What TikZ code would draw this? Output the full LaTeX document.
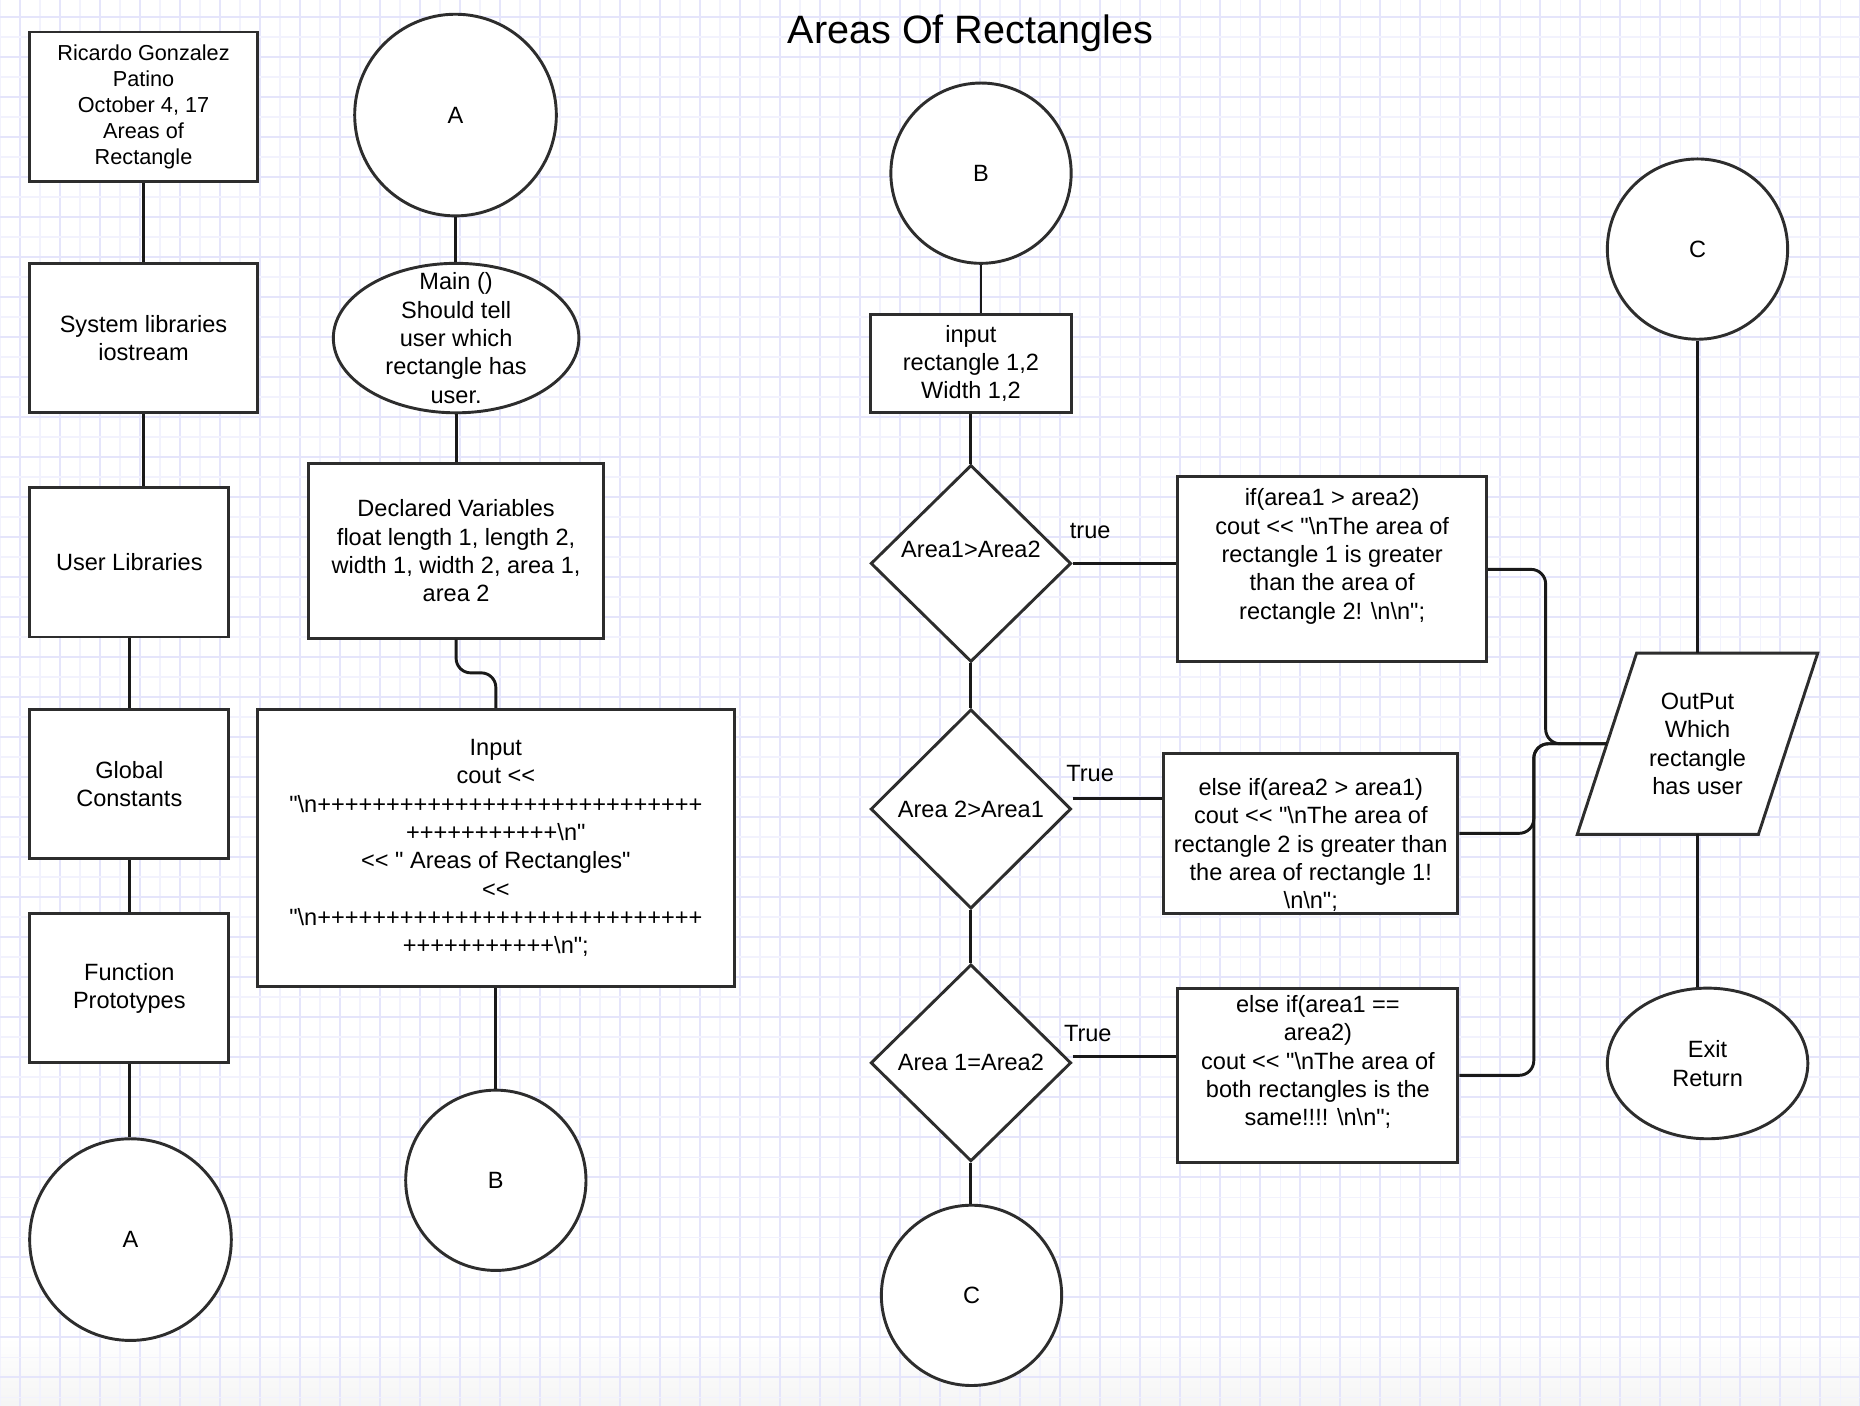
\documentclass[tikz,border=0pt]{standalone}
\usepackage{fontspec}
\setmainfont{Liberation Sans}[Ligatures=TeXOff] % straight quotes and << stay as typed
\usepackage{tikz}
\usetikzlibrary{
  shapes.geometric, % diamond and ellipse nodes
  calc              % coordinate helpers
}
\definecolor{gridbold}{RGB}{229,229,251}
\definecolor{gridfine}{RGB}{242,242,253}
\definecolor{edgecol}{RGB}{45,45,45}
\newcommand{\bsl}{\textbackslash}
\newcommand{\bodyfont}{\fontsize{11.3}{13.6}\selectfont}
\newcommand{\smallbody}{\fontsize{10.4}{12.5}\selectfont}
\tikzset{
  boxdim/.style 2 args={minimum width=#1*0.02cm, minimum height=#2*0.02cm},
  stepbox/.style={
    rectangle,
    draw=edgecol,
    line width=1.4pt,
    fill=white,
    inner sep=0pt,
    align=center,
    font=\bodyfont
  },
  decision/.style={
    diamond,
    draw=edgecol,
    line width=1.4pt,
    fill=white,
    inner sep=0pt,
    align=center,
    font=\bodyfont
  },
  terminal/.style={
    ellipse,
    draw=edgecol,
    line width=1.4pt,
    fill=white,
    inner sep=0pt,
    align=center,
    font=\bodyfont
  },
  pagelink/.style={
    circle,
    draw=edgecol,
    line width=1.4pt,
    fill=white,
    inner sep=0pt,
    font=\bodyfont
  },
  txt/.style={
    align=center,
    inner sep=0pt,
    font=\bodyfont
  },
  link/.style={
    draw=black!90,
    line width=1.4pt,
    rounded corners=7pt
  },
  gridline bold/.style={draw=gridbold, line width=0.9pt},
  gridline fine/.style={draw=gridfine, line width=0.7pt}
}

\begin{document}
\begin{tikzpicture}[x=0.02cm, y=-0.02cm] % units are pixels of the sheet, y runs downwards

  % sheet and grid paper
  \fill[white] (0,0) rectangle (1568,1185); % white sheet
  \useasboundingbox (0,0) rectangle (1568,1185); % fixes the page size
  \begin{scope}
    \clip (0,0) rectangle (1568,1185);
    \shade[top color=white, bottom color=black!4] (0,1127) rectangle (1568,1185); % faint fade at the bottom
    \foreach \k in {0,...,47} {
      \draw[gridline fine] ({33.727*\k},0) -- ({33.727*\k},1185); % fine vertical lines
      \draw[gridline bold] ({16.863+33.727*\k},0) -- ({16.863+33.727*\k},1185); % bold vertical lines
    }
    \foreach \k in {0,...,35} {
      \draw[gridline fine] (0,{31.2+33.727*\k}) -- (1568,{31.2+33.727*\k}); % fine horizontal lines
      \draw[gridline bold] (0,{14.33+33.727*\k}) -- (1568,{14.33+33.727*\k}); % bold horizontal lines
    }
  \end{scope}

  % title
  \node[font=\fontsize{19}{23}\selectfont] (title) at (818,28) {Areas Of Rectangles};

  % first column: header and program parts
  \node[stepbox, boxdim={192}{126}, font=\smallbody] (hdr) at (121,90) {Ricardo Gonzalez\\Patino\\October 4, 17\\Areas of\\Rectangle};
  \node[stepbox, boxdim={192}{126}] (sys) at (121,285) {System libraries\\iostream};
  \node[stepbox, boxdim={168}{126}] (user) at (109,474) {User Libraries};
  \node[stepbox, boxdim={168}{126}] (glob) at (109,661) {Global\\Constants};
  \node[stepbox, boxdim={168}{126}] (func) at (109,833) {Function\\Prototypes};
  \node[pagelink, minimum size=170*0.02cm] (cA1) at (110,1045) {A};

  % second column: main, variables and banner
  \node[pagelink, minimum size=170*0.02cm] (cA2) at (384,97) {A};
  \node[terminal, boxdim={207}{126}] (main) at (384.5,285) {};
  \node[txt] (mainTxt) at (main) {Main ()\\Should tell\\user which\\rectangle has\\user.};
  \node[stepbox, boxdim={249}{147}] (decl) at (384.5,464.5) {Declared Variables\\float length 1, length 2,\\width 1, width 2, area 1,\\area 2};
  \node[stepbox, boxdim={402}{234}] (input) at (418,715) {Input\\cout <<\\"\bsl n++++++++++++++++++++++++++++\\+++++++++++\bsl n"\\<< " Areas of Rectangles"\\<<\\"\bsl n++++++++++++++++++++++++++++\\+++++++++++\bsl n";};
  \node[pagelink, minimum size=152*0.02cm] (cB1) at (418,995) {B};

  % third column: input and the three tests
  \node[pagelink, minimum size=152*0.02cm] (cB2) at (827,146) {B};
  \node[stepbox, boxdim={169}{83}] (inrect) at (818.5,306.5) {input\\rectangle 1,2\\Width 1,2};
  \node[decision, boxdim={169}{166}] (d1) at (818.5,475) {};
  \node[txt] (d1Txt) at ([yshift=0.24cm]d1.center) {Area1>Area2};
  \node[decision, boxdim={169}{168}] (d2) at (818.5,682) {Area 2>Area1};
  \node[decision, boxdim={169}{166}] (d3) at (818.5,896) {Area 1=Area2};
  \node[pagelink, minimum size=152*0.02cm] (cC1) at (819,1092) {C};

  \node[txt] (lbl1) at (919,448) {true};
  \node[txt] (lbl2) at (919,652) {True};
  \node[txt] (lbl3) at (917,871) {True};

  % fourth column: the three messages
  \node[stepbox, boxdim={260}{156}] (if1) at (1123,480) {};
  \node[txt] (if1Txt) at ([yshift=0.22cm]if1.center) {if(area1 > area2)\\cout << "\bsl nThe area of\\rectangle 1 is greater\\than the area of\\rectangle 2! \bsl n\bsl n";};
  \node[stepbox, boxdim={248}{135}] (elif) at (1105,702.5) {};
  \node[txt] (elifTxt) at ([yshift=-0.2cm]elif.center) {else if(area2 > area1)\\cout << "\bsl nThe area of\\rectangle 2 is greater than\\the area of rectangle 1!\\\bsl n\bsl n";};
  \node[stepbox, boxdim={236}{147}] (eq) at (1111,906.5) {};
  \node[txt] (eqTxt) at ([yshift=0.22cm]eq.center) {else if(area1 ==\\area2)\\cout << "\bsl nThe area of\\both rectangles is the\\same!!!! \bsl n\bsl n";};

  % last column: output and exit
  \node[pagelink, minimum size=152*0.02cm] (cC2) at (1431,210) {C};
  \node[inner sep=0pt, boxdim={152}{152}] (out) at (1431,627) {};
  \draw[draw=edgecol, line width=1.4pt, fill=white, line join=miter]
    ([xshift=0.5cm]out.north west) -- ([xshift=0.5cm]out.north east)
    -- ([xshift=-0.5cm]out.south east) -- ([xshift=-0.5cm]out.south west) -- cycle; % parallelogram round the output
  \node[txt] (outTxt) at (out) {OutPut\\Which\\rectangle\\has user};
  \node[terminal, boxdim={169}{127}] (exit) at (1439.5,896.5) {Exit\\Return};

  % connectors
  \draw[link] (hdr) -- (sys);
  \draw[link] (sys.south) -- (sys.south |- user.north);
  \draw[link] (user) -- (glob);
  \draw[link] (glob) -- (func);
  \draw[link] (func.south) -- (func.south |- cA1.north);

  \draw[link] (cA2.south) -- (cA2.south |- main.north);
  \draw[link] (main.south) -- (main.south |- decl.north);
  \draw[link] (decl.south) -- ++(0,28) -| (input.north); % small jog to the wider box
  \draw[link] (input) -- (cB1);

  \draw[link] (cB2.south) -- (cB2.south |- inrect.north);
  \draw[link] (inrect.south) -- (d1.north);
  \draw[link] (d1) -- (d2);
  \draw[link] (d2) -- (d3);
  \draw[link] (d3.south) -- (d3.south |- cC1.north);

  \coordinate (d2r) at ([yshift=0.17cm]d2.east);
  \coordinate (d3r) at ([yshift=0.1cm]d3.east);
  \draw[link] (d1.east) -- (d1.east -| if1.west);
  \draw[link] (d2r) -- (d2r -| elif.west);
  \draw[link] (d3r) -- (d3r -| eq.west);

  \coordinate (jA) at (1303,627); % bend of the upper message line
  \coordinate (jB) at (1293,627); % bend shared by the two lower lines
  \draw[link] (if1.east) -| (jA) -- (out.west);
  \draw[link] (elif.east) -| (jB) -- (out.west);
  \draw[link] (eq.east) -| (jB) -- (out.west);

  \draw[link] (cC2.south) -- (cC2.south |- out.north);
  \draw[link] (out.south) -- (out.south |- exit.north);

\end{tikzpicture}
\end{document}
